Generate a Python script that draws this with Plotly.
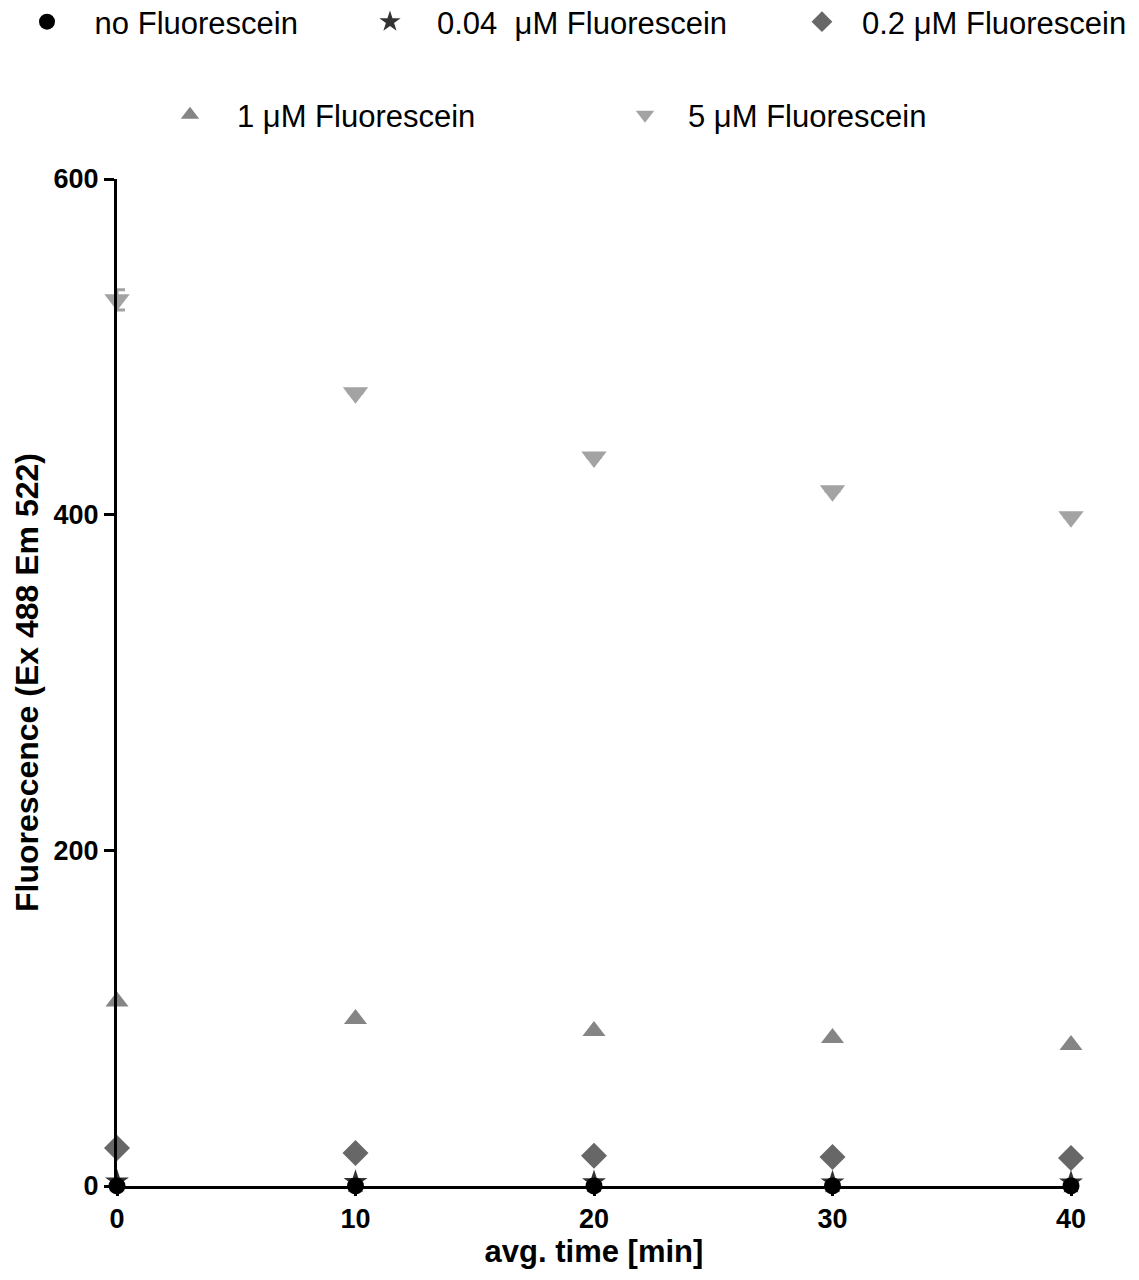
import plotly.graph_objects as go

time_min = [0, 10, 20, 30, 40]
no_fluo = [0.0, 0.0, 0.0, 0.0, 0.0]
fluo_004 = [2.8, 2.4, 2.3, 2.2, 2.1]
fluo_02 = [22.6, 19.7, 18.0, 17.3, 16.7]
fluo_1 = [110.0, 99.5, 92.4, 88.2, 84.0]
fluo_5 = [528.0, 472.6, 434.4, 414.2, 398.7]
fluo_5_err = [6.0, 0.0, 0.0, 0.0, 0.0]

names = ["\u00a0no Fluorescein", "0.04  μM Fluorescein", "0.2 μM Fluorescein",
         "1 μM Fluorescein", "5 μM Fluorescein"]

FONT = "Liberation Sans, Arial, sans-serif"

fig = go.Figure()

series = [
    (fluo_5, names[4], "triangle-down", "#A3A3A3", 22, "legend5", fluo_5_err),
    (fluo_1, names[3], "triangle-up", "#858585", 20, "legend4", None),
    (fluo_02, names[2], "diamond", "#676767", 20, "legend3", None),
    (fluo_004, names[1], "star", "#333333", 18, "legend2", None),
    (no_fluo, names[0], "circle", "#000000", 17, "legend", None),
]
for vals, nm, sym, col, sz, lg, err in series:
    kw = {}
    if err is not None:
        kw["error_y"] = dict(type="data", array=err, visible=True, color=col,
                             thickness=3, width=8)
    fig.add_trace(go.Scatter(
        x=time_min, y=vals, name=nm, mode="markers", legend=lg,
        showlegend=True,
        marker=dict(symbol=sym, color=col, size=sz, line=dict(width=0)),
        cliponaxis=False, **kw))


def leg(x, y, iw):
    return dict(orientation="h", x=x, xref="container", y=y, yref="container",
                yanchor="middle", xanchor="left", itemwidth=iw,
                bgcolor="rgba(0,0,0,0)", font=dict(size=31, family=FONT))


fig.update_layout(
    width=1139, height=1280,
    showlegend=True,
    margin=dict(l=109, r=76, t=171, b=102, autoexpand=False),
    plot_bgcolor="white", paper_bgcolor="white",
    font=dict(family=FONT, color="black"),
    legend=leg(0.0, 0.98906, 68),
    legend2=leg(0.2941, 0.98906, 84),
    legend3=leg(0.6795, 0.98906, 70),
    legend4=leg(0.1185, 0.91641, 84),
    legend5=leg(0.5215, 0.91641, 76),
    xaxis=dict(range=[0, 40], tickvals=[0, 10, 20, 30, 40], showgrid=False,
               zeroline=False, showline=True, linecolor="black", linewidth=3,
               ticks="outside", ticklen=7, tickwidth=3, tickcolor="black",
               tickfont=dict(size=27, family=FONT, weight="bold"),
               title=dict(text="<b>avg. time [min]</b>", font=dict(size=31, family=FONT),
                          standoff=4)),
    yaxis=dict(range=[0, 600], tickvals=[0, 200, 400, 600], showgrid=False,
               zeroline=False, showline=True, linecolor="black", linewidth=3,
               ticks="outside", ticklen=10, tickwidth=3, tickcolor="black",
               tickfont=dict(size=27, family=FONT, weight="bold"),
               title=dict(text="<b>Fluorescence (Ex 488 Em 522)</b>",
                          font=dict(size=32, family=FONT), standoff=6)),
)

fig.write_html("out.html")
